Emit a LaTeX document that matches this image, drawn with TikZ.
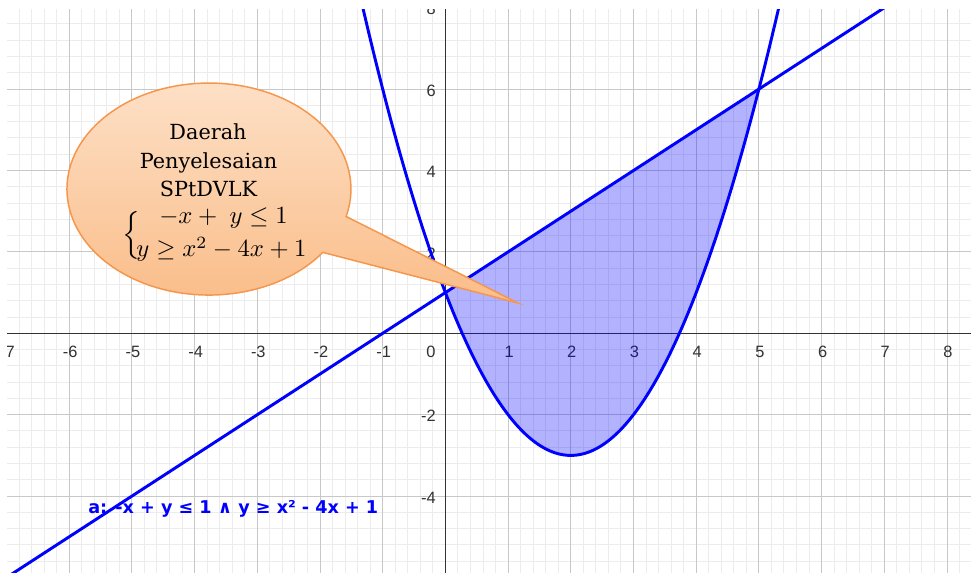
\documentclass[tikz,border=0pt]{standalone}
\usepackage{amsmath}
\usepackage{graphicx}
\usepackage{fontspec}
\newfontfamily\calloutfont{DejaVu Serif}
\newfontfamily\tickfont{Liberation Sans}
\newfontfamily\lblfont{DejaVu Sans}
\definecolor{gridmajor}{RGB}{200,200,200}
\definecolor{gridminor}{RGB}{236,236,236}
\definecolor{curveblue}{RGB}{0,0,255}
\definecolor{calloutline}{RGB}{245,150,75}
\definecolor{callouttop}{RGB}{253,226,202}
\definecolor{calloutbottom}{RGB}{250,188,135}
\definecolor{ticktext}{RGB}{50,50,50}
\tikzset{
 minorgrid/.style={draw=gridminor, line width=0.75pt},
 majorgrid/.style={draw=gridmajor, line width=0.75pt},
 axisline/.style={draw=black!80, line width=0.9pt},
 curve/.style={draw=curveblue, line width=2.2pt},
 region/.style={fill=curveblue, fill opacity=0.3},
 ticklabel/.style={font=\tickfont\fontsize{12.3}{14}\selectfont, text=ticktext, inner sep=0pt},
 calloutshape/.style={draw=calloutline, line width=1.1pt, top color=callouttop, bottom color=calloutbottom},
 callouttext/.style={font=\calloutfont\fontsize{15.6}{18}\selectfont, inner sep=0pt, anchor=base},
 eqtext/.style={inner sep=0pt, anchor=base},
 alabel/.style={font=\lblfont\bfseries\fontsize{13.2}{15}\selectfont, text=curveblue, inner sep=0pt, anchor=base west},
}
\begin{document}
\begin{tikzpicture}[x=0.75pt, y=-0.75pt]
\useasboundingbox (0,0) rectangle (971,573);
\fill[white] (0,0) rectangle (971,573);
\begin{scope}
\clip (7,10) rectangle (971,573);
\begin{scope}[shift={(334.05pt,-249.975pt)}, x=47.025pt, y=30.525pt]
 \foreach \i in {-35,...,42} \draw[minorgrid] (\i/5,-6) -- (\i/5,8.2);
 \foreach \j in {-15,...,20} \draw[minorgrid] (-7.2,\j*0.4) -- (8.5,\j*0.4);
 \foreach \i in {-7,...,8} \draw[majorgrid] (\i,-6) -- (\i,8.2);
 \foreach \j in {-4,-2,...,8} \draw[majorgrid] (-7.2,\j) -- (8.5,\j);
 \draw[axisline] (-7.2,0) -- (8.5,0);
 \draw[axisline] (0,-6) -- (0,8.2);
 \foreach \i in {-7,...,-1,1,2,...,8}
   \node[ticklabel, xshift=0.75pt, yshift=-14pt] (xt\i) at (\i,0) {\i};
 \node[ticklabel, xshift=-10.8pt, yshift=-14pt] (xt0) at (0,0) {0};
 \foreach \j in {-4,-2,2,4,6,8}
   \node[ticklabel, anchor=east, xshift=-7pt, yshift=-1.1pt] (yt\j) at (0,\j) {\j};
 \fill[region] plot[domain=0:5, samples=120] (\x,{\x*\x-4*\x+1}) -- cycle;
 \draw[curve] (-7.3,-6.3) -- (7.6,8.6);
 \draw[curve] plot[domain=-1.4:5.4, samples=200, smooth] (\x,{\x*\x-4*\x+1});
\end{scope}
\node[alabel] (alab) at (88,513) {a: -x + y ≤ 1 ∧ y ≥ x² - 4x + 1};
\path[calloutshape] (322.8,252.4) arc[start angle=36.7, end angle=375, x radius=142, y radius=106] -- (518,303) -- cycle;
\node[callouttext] (t1) at (208,140) {Daerah};
\node[callouttext] (t2) at (208.5,168.5) {Penyelesaian};
\node[callouttext] (t3) at (208.5,197) {SPtDVLK};
\node[inner sep=0pt] (br) at (132.5,235) {\scalebox{2}{$\left\{\rule[-5.5pt]{0pt}{16pt}\right.$}};
\node[eqtext] (e1) at (223.5,224) {\scalebox{1.85}{$-x+\;y\le 1$}};
\node[eqtext] (e2) at (221.5,257) {\scalebox{1.85}{$y\ge x^2-4x+1$}};
\end{scope}
\end{tikzpicture}
\end{document}
